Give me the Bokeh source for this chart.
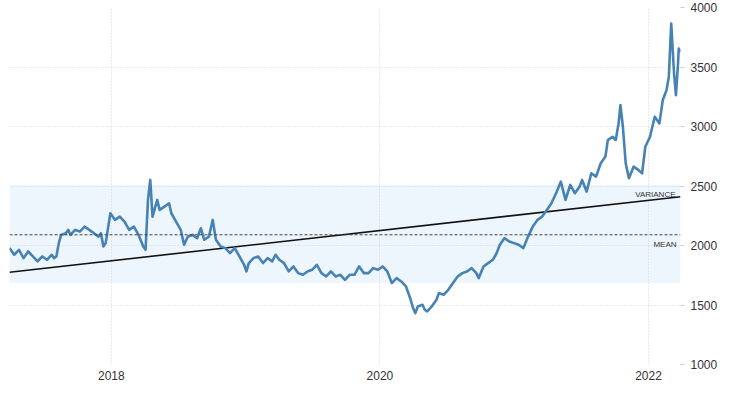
from bokeh.plotting import figure
from bokeh.models import Range1d, FixedTicker, BoxAnnotation, Span
from bokeh.embed import file_html
from bokeh.resources import INLINE
from bokeh.core.properties import value

# decimal years (time positions)
years = [
    2017.242, 2017.277, 2017.312, 2017.347, 2017.381, 2017.416, 2017.451, 2017.486,
    2017.521, 2017.556, 2017.574, 2017.591, 2017.609, 2017.626, 2017.661, 2017.679,
    2017.696, 2017.731, 2017.766, 2017.801, 2017.836, 2017.871, 2017.906, 2017.923,
    2017.941, 2017.958, 2017.993, 2018.028, 2018.063, 2018.098, 2018.133, 2018.168,
    2018.203, 2018.238, 2018.255, 2018.273, 2018.290, 2018.307, 2018.342, 2018.360,
    2018.395, 2018.430, 2018.447, 2018.482, 2018.517, 2018.542, 2018.570, 2018.604,
    2018.639, 2018.667, 2018.692, 2018.727, 2018.755, 2018.779, 2018.814, 2018.849,
    2018.884, 2018.919, 2018.954, 2018.989, 2019.006, 2019.024, 2019.059, 2019.094,
    2019.129, 2019.164, 2019.198, 2019.223, 2019.251, 2019.286, 2019.321, 2019.356,
    2019.391, 2019.426, 2019.461, 2019.495, 2019.530, 2019.565, 2019.600, 2019.635,
    2019.670, 2019.705, 2019.740, 2019.775, 2019.810, 2019.845, 2019.880, 2019.915,
    2019.950, 2019.985, 2020.020, 2020.055, 2020.089, 2020.124, 2020.159, 2020.194,
    2020.229, 2020.247, 2020.264, 2020.282, 2020.317, 2020.334, 2020.352, 2020.386,
    2020.421, 2020.439, 2020.474, 2020.509, 2020.544, 2020.579, 2020.614, 2020.648,
    2020.683, 2020.718, 2020.736, 2020.771, 2020.806, 2020.841, 2020.869, 2020.893,
    2020.928, 2020.963, 2020.998, 2021.033, 2021.068, 2021.103, 2021.138, 2021.173,
    2021.208, 2021.243, 2021.277, 2021.312, 2021.347, 2021.382, 2021.417, 2021.452,
    2021.487, 2021.505, 2021.539, 2021.574, 2021.609, 2021.644, 2021.679, 2021.697,
    2021.732, 2021.756, 2021.777, 2021.791, 2021.809, 2021.830, 2021.854, 2021.889,
    2021.924, 2021.952, 2021.976, 2022.011, 2022.046, 2022.081, 2022.106, 2022.134,
    2022.151, 2022.169, 2022.190, 2022.204, 2022.218, 2022.225, 2022.238,
]

prices = [
    1978, 1922, 1964, 1894, 1950, 1908, 1866, 1908,
    1880, 1922, 1894, 1908, 2020, 2089, 2103, 2131,
    2089, 2131, 2117, 2159, 2131, 2103, 2075, 2103,
    1992, 2020, 2271, 2215, 2243, 2201, 2131, 2159,
    2089, 1992, 1964, 2383, 2551, 2243, 2383, 2299,
    2327, 2355, 2271, 2201, 2131, 2006, 2075, 2089,
    2062, 2145, 2048, 2075, 2215, 2048, 1992, 1978,
    1936, 1978, 1908, 1838, 1782, 1852, 1894, 1908,
    1852, 1894, 1866, 1922, 1880, 1852, 1782, 1824,
    1768, 1754, 1782, 1796, 1838, 1768, 1740, 1782,
    1740, 1754, 1712, 1754, 1754, 1824, 1768, 1768,
    1810, 1796, 1824, 1782, 1684, 1726, 1698, 1656,
    1544, 1474, 1432, 1488, 1502, 1460, 1446, 1488,
    1544, 1600, 1586, 1628, 1684, 1740, 1768, 1782,
    1810, 1768, 1726, 1824, 1852, 1880, 1936, 2006,
    2062, 2034, 2020, 2006, 1978, 2075, 2159, 2215,
    2243, 2299, 2355, 2439, 2537, 2383, 2509, 2439,
    2495, 2551, 2453, 2607, 2579, 2691, 2747, 2886,
    2914, 2886, 3026, 3180, 2998, 2691, 2565, 2663,
    2635, 2607, 2830, 2914, 3082, 3026, 3222, 3306,
    3418, 3865, 3446, 3264, 3501, 3655, 3627,
]

mean_value = 2090
band_low = 1685
band_high = 2510
trend_start = 1775
trend_end = 2410
x_ticks = [2018, 2020, 2022]
y_ticks = [1000, 1500, 2000, 2500, 3000, 3500, 4000]

FONT = "Liberation Sans"
LABEL_COLOR = "#333333"
GRID_COLOR = "#d4d4d4"

p = figure(
    frame_width=671, frame_height=357,
    x_range=Range1d(years[0], years[-1]),
    y_range=Range1d(y_ticks[0], y_ticks[-1]),
    y_axis_location="right",
    output_backend="svg", toolbar_location=None,
    min_border_left=9, min_border_top=7, min_border_right=4, min_border_bottom=0,
    background_fill_color="white", border_fill_color="white",
    outline_line_color=None,
)

# variance band
p.add_layout(BoxAnnotation(bottom=band_low, top=band_high, fill_color="#eef6fd",
                           fill_alpha=1.0, line_color=None, level="image"))

# grid
p.xgrid.ticker = FixedTicker(ticks=x_ticks)
p.ygrid.ticker = FixedTicker(ticks=y_ticks)
for g in (p.xgrid, p.ygrid):
    g.grid_line_color = GRID_COLOR
    g.grid_line_dash = "1 2"
    g.grid_line_width = 1

# mean line
p.add_layout(Span(location=mean_value, dimension="width", line_color="#444444",
                  line_dash="3 2", line_width=1))

# trend line
p.line([years[0], years[-1]], [trend_start, trend_end], line_color="#111111", line_width=1.6)

# price line
p.line(years, prices, line_color="#4682b4", line_width=2.6, line_join="round")

# annotations
p.text(x=[years[-1]], y=[trend_end], text=["VARIANCE"], text_align="right",
       text_baseline="bottom", x_offset=-5, y_offset=2, text_font=value(FONT),
       text_font_size="8px", text_color=LABEL_COLOR)
p.text(x=[years[-1]], y=[mean_value], text=["MEAN"], text_align="right",
       text_baseline="top", x_offset=-4, y_offset=5, text_font=value(FONT),
       text_font_size="8px", text_color=LABEL_COLOR)

# x axis
xa = p.xaxis[0]
xa.ticker = FixedTicker(ticks=x_ticks)
xa.axis_line_color = None
xa.major_tick_in = 0
xa.major_tick_out = 0
xa.major_tick_line_color = None
xa.minor_tick_line_color = None
xa.major_label_standoff = 6
xa.major_label_text_font = FONT
xa.major_label_text_font_size = "12px"
xa.major_label_text_color = LABEL_COLOR

# y axis (right)
ya = p.yaxis[0]
ya.ticker = FixedTicker(ticks=y_ticks)
ya.axis_line_color = None
ya.major_tick_in = 0
ya.major_tick_out = 4
ya.major_tick_line_color = "#cccccc"
ya.minor_tick_line_color = None
ya.major_label_standoff = 6
ya.major_label_text_font = FONT
ya.major_label_text_font_size = "12px"
ya.major_label_text_color = LABEL_COLOR

open("out.html", "w").write(file_html(p, INLINE))
